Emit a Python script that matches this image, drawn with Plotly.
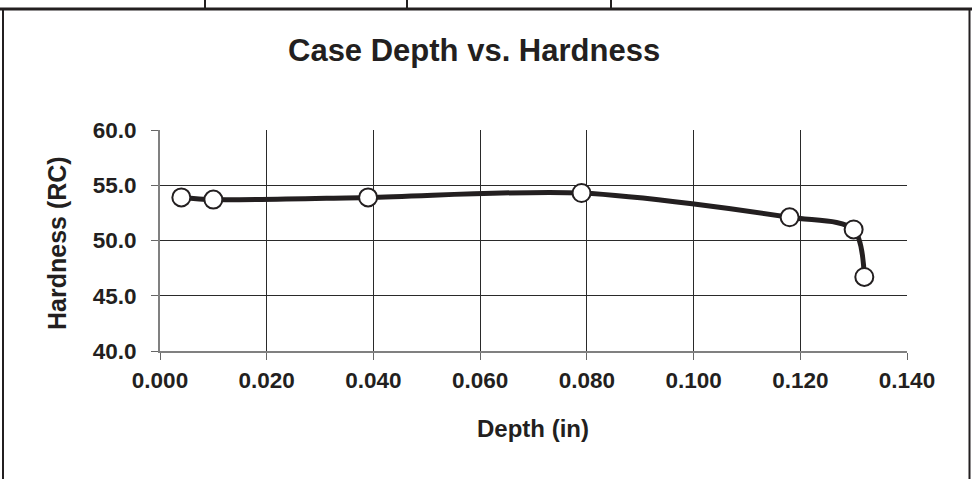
import plotly.graph_objects as go

depth_in = [0.004, 0.010, 0.039, 0.079, 0.118, 0.130, 0.132]
hardness_rc = [53.9, 53.7, 53.9, 54.3, 52.1, 51.0, 46.7]
x_ticks = [0.000, 0.020, 0.040, 0.060, 0.080, 0.100, 0.120, 0.140]
y_ticks = [40.0, 45.0, 50.0, 55.0, 60.0]

W, H = 972, 479
L, R, T, B = 160, 907, 130, 351  # plot area in px

def px(x):
    return (x - L) / (R - L)

def py(y):
    return (B - y) / (B - T)

INK = "#231f20"
FONT = "Arial, Liberation Sans, sans-serif"

fig = go.Figure()
fig.add_trace(go.Scatter(
    x=depth_in, y=hardness_rc, mode="lines+markers",
    line=dict(color=INK, width=5, shape="spline", smoothing=0.85),
    marker=dict(size=18, color="white", line=dict(color=INK, width=2)),
    showlegend=False, cliponaxis=False,
))

axis_common = dict(
    showgrid=True, gridcolor="#2a2a2a", gridwidth=1,
    ticks="outside", ticklen=7, tickcolor="#666", tickwidth=1,
    showline=True, linecolor="#808080", linewidth=2,
    tickfont=dict(family=FONT, size=22.5, color=INK, weight="bold"),
    zeroline=False, fixedrange=True,
)

fig.update_xaxes(range=[0, 0.14], tickvals=x_ticks, tickformat=".3f",
                 ticklabelstandoff=1, **axis_common)
fig.update_yaxes(range=[40, 60], tickvals=y_ticks, tickformat=".1f",
                 ticklabelstandoff=10, **axis_common)

shapes = []
shapes.append(dict(type="line", xref="paper", yref="paper",
                   x0=px(0), x1=px(W), y0=py(9), y1=py(9),
                   line=dict(color=INK, width=3)))
shapes.append(dict(type="line", xref="paper", yref="paper",
                   x0=px(3), x1=px(3), y0=py(9), y1=py(H),
                   line=dict(color=INK, width=2)))
shapes.append(dict(type="line", xref="paper", yref="paper",
                   x0=px(969.5), x1=px(969.5), y0=py(9), y1=py(H),
                   line=dict(color=INK, width=2)))
for xd in (205, 407, 611):
    shapes.append(dict(type="line", xref="paper", yref="paper",
                       x0=px(xd), x1=px(xd), y0=py(0), y1=py(9),
                       line=dict(color=INK, width=2)))

fig.update_layout(
    width=W, height=H,
    margin=dict(l=L, r=W - R, t=T, b=H - B, pad=0),
    paper_bgcolor="white", plot_bgcolor="white",
    shapes=shapes,
    annotations=[
        dict(text="<b>Case Depth vs. Hardness</b>", xref="paper", yref="paper",
             x=px(474), y=py(51), xanchor="center", yanchor="middle",
             showarrow=False, font=dict(family=FONT, size=31, color=INK)),
        dict(text="<b>Depth (in)</b>", xref="paper", yref="paper",
             x=px(533), y=py(428), xanchor="center", yanchor="middle",
             showarrow=False, font=dict(family=FONT, size=24, color=INK)),
        dict(text="<b>Hardness (RC)</b>", xref="paper", yref="paper",
             x=px(57), y=py(243), xanchor="center", yanchor="middle",
             textangle=-90,
             showarrow=False, font=dict(family=FONT, size=25, color=INK)),
    ],
)

fig.write_html("out.html", config={"displayModeBar": False},
               post_script="document.body.style.margin='0';document.body.style.overflow='hidden';")
